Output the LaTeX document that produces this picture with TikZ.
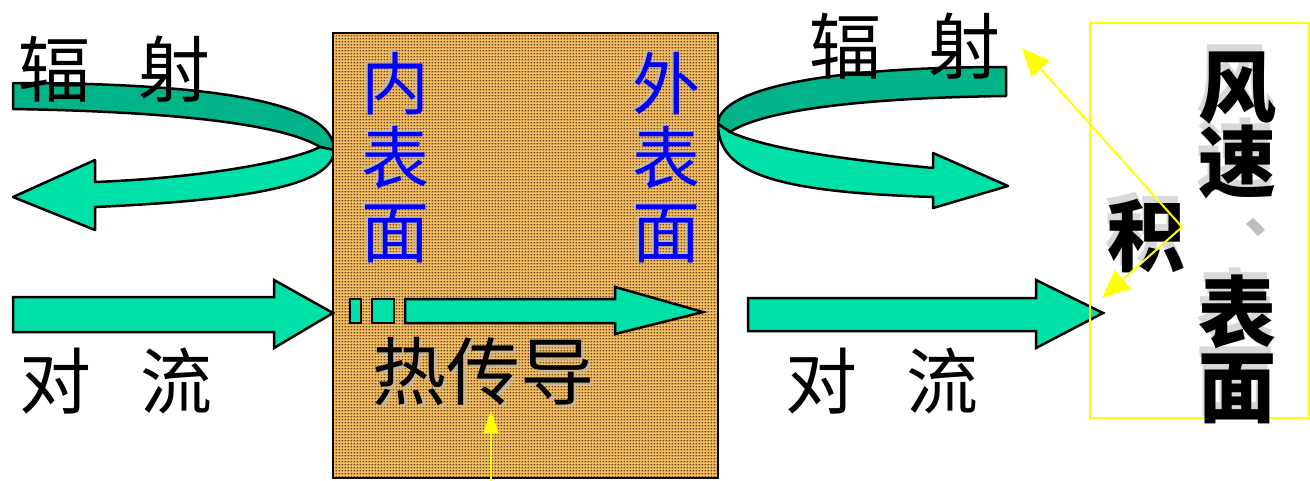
\documentclass[tikz,border=0pt]{standalone}
\usepackage{fontspec}
\newfontfamily\cjk{Noto Sans CJK SC}
\usetikzlibrary{arrows.meta,patterns}
\definecolor{tealdark}{RGB}{0,179,137}
\definecolor{teallight}{RGB}{0,225,170}
\definecolor{boxbg}{RGB}{246,190,96}
\definecolor{boxdot}{RGB}{96,70,32}
\definecolor{blueT}{RGB}{0,0,255}
\definecolor{shadowgray}{RGB}{190,190,190}
\definecolor{yel}{RGB}{255,255,0}
\newcommand\tightlines{\lineskiplimit=-1000pt\relax\lineskip=0pt\relax}
\newcommand\vcomma{\hbox to 78pt{\hspace{46pt}\raisebox{34pt}{\fontsize{56}{56}\selectfont\color{shadowgray}\rlap{、}}\hss}}
\pgfdeclarepatternformonly{brickdots}{\pgfpointorigin}{\pgfpoint{3.4pt}{3.4pt}}{\pgfpoint{3.4pt}{3.4pt}}{%
  \pgfpathrectangle{\pgfpoint{0.6pt}{0.7pt}}{\pgfpoint{2pt}{1.6pt}}\pgfusepath{fill}}
\tikzset{
  ribbon/.style={draw=black, line width=2.5pt, line join=round},
  bigarrow/.style={draw=black, line width=2.5pt, line join=miter, fill=teallight},
  lbl/.style={font=\cjk\fontsize{72}{72}\selectfont, inner sep=0pt},
  bluelbl/.style={font=\cjk\fontsize{68}{74}\selectfont\tightlines, inner sep=0pt, align=center, text=blueT},
  boldlbl/.style={font=\cjk\bfseries\fontsize{78}{75}\selectfont\tightlines, inner sep=0pt, align=center},
  shadowtxt/.style={text=shadowgray, opacity=0.6},
  yarrow/.style={draw=yel, line width=2pt, -{Triangle[length=28pt,width=24pt]}},
}
\begin{document}
\begin{tikzpicture}[x=1pt,y=-1pt]
\useasboundingbox (0,0) rectangle (1310,480);
\fill[white] (0,0) rectangle (1310,480);

% left radiation ribbon
\path[ribbon, fill=tealdark] (13,83) .. controls (250,83) and (334,110) .. (334,150)
   -- (320,147) .. controls (290,128) and (200,112) .. (13,109) -- cycle;
\path[ribbon, fill=teallight] (320,147) -- (334,150) .. controls (334,185) and (250,200) .. (95,207)
   -- (95,230) -- (13,197) -- (95,160) -- (95,182)
   .. controls (200,178) and (290,162) .. (320,147) -- cycle;

% right radiation ribbon
\path[ribbon, fill=tealdark] (1006,67) .. controls (810,67) and (718,92) .. (718,124)
   -- (730,132) .. controls (760,112) and (850,98) .. (1006,96) -- cycle;
\path[ribbon, fill=teallight] (730,132) -- (718,124) .. controls (718,175) and (780,192) .. (933,197)
   -- (933,208) -- (1008,186) -- (933,153) -- (933,168)
   .. controls (850,160) and (770,150) .. (730,132) -- cycle;

% wall
\fill[boxbg] (333,33) rectangle (718,478);
\fill[pattern=brickdots, pattern color=boxdot] (333,33) rectangle (718,478);
\node[draw=black, line width=2pt, minimum width=385pt, minimum height=445pt, inner sep=0pt] (wall) at (525.5,255.5) {};

% convection arrows
\path[bigarrow] (13,297) -- (274,297) -- (274,280) -- (333,313) -- (274,348) -- (274,332) -- (13,332) -- cycle;
\path[bigarrow] (748,298) -- (1036,298) -- (1036,280) -- (1103,313) -- (1036,348) -- (1036,331) -- (748,331) -- cycle;

% conduction arrow
\path[bigarrow] (350,299) rectangle (361,323);
\path[bigarrow] (372,299) rectangle (394,323);
\path[bigarrow] (405,299) -- (615,299) -- (615,287) -- (703,312) -- (615,334) -- (615,323) -- (405,323) -- cycle;

% yellow box
\node[draw=yel, line width=2pt, minimum width=219pt, minimum height=395pt, inner sep=0pt] (ybox) at (1199.5,220.5) {};

% labels
\node[lbl] (radL) at (115,69) {辐\hspace{48pt}射};
\node[lbl] (convL) at (116,381) {对\hspace{49pt}流};
\node[lbl] (radR) at (905,46) {辐\hspace{48pt}射};
\node[lbl] (convR) at (882,381) {对\hspace{49pt}流};

\node[bluelbl, shadowtxt] (innerS) at (392,156) {内\\表\\面};
\node[bluelbl] (inner) at (395,158) {内\\表\\面};
\node[bluelbl, shadowtxt] (outerS) at (663,156) {外\\表\\面};
\node[bluelbl] (outer) at (666,158) {外\\表\\面};

\node[lbl, shadowtxt, font=\cjk\fontsize{74}{74}\selectfont] (condS) at (486,374) {热传导};
\node[lbl, font=\cjk\fontsize{74}{74}\selectfont] (cond) at (483,371) {热传导};

\node[boldlbl, shadowtxt] (windS) at (1235,231) {风\\速\\[75pt]表\\面};
\node[boldlbl] (wind) at (1237,238) {风\\速\\\vcomma\\表\\面};
\node[boldlbl, shadowtxt] (areaS) at (1144,229) {积};
\node[boldlbl] (area) at (1146,236) {积};

% yellow pointers
\coordinate (v) at (1182,227);
\coordinate (t1) at (1022,48);
\coordinate (t2) at (1102,298);
\coordinate (b0) at (491,482);
\coordinate (b1) at (491,410);
\draw[yarrow] (v) -- (t1);
\draw[yarrow] (v) -- (t2);
\draw[draw=yel, line width=2pt, -{Triangle[length=23pt,width=15pt]}] (b0) -- (b1);
\end{tikzpicture}
\end{document}
